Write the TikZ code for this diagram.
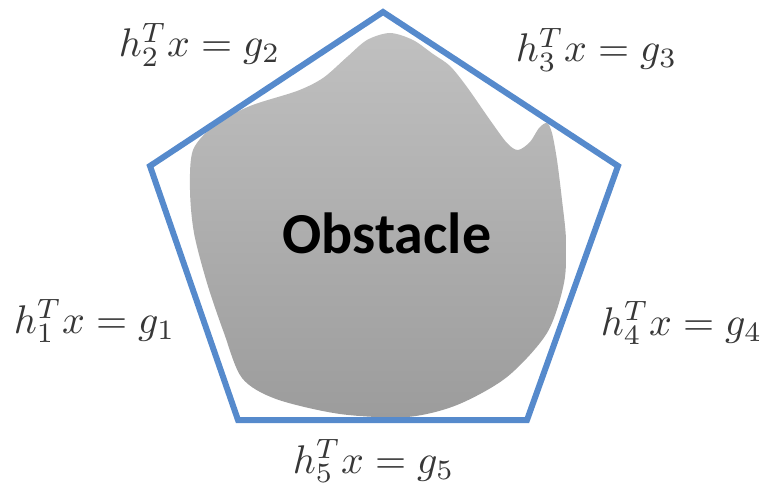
\documentclass[tikz,border=0pt]{standalone}
\usepackage{fontspec}
\newfontfamily\obsfont{Carlito}
\definecolor{penblue}{RGB}{86,138,204}
\definecolor{blobtop}{RGB}{192,192,192}
\definecolor{blobbot}{RGB}{156,156,156}
\definecolor{labgray}{RGB}{55,55,55}
\tikzset{
  hull/.style={draw=penblue, line width=6pt, line join=miter},
  eqlabel/.style={anchor=base west, inner sep=0pt, text=labgray, scale=4},
  obslabel/.style={anchor=base, inner sep=0pt, font=\obsfont\bfseries\fontsize{58}{70}\selectfont}
}
\begin{document}
\begin{tikzpicture}[x=1pt,y=-1pt]
\useasboundingbox (0,0) rectangle (763,487);
% obstacle blob
\shade[top color=blobtop, bottom color=blobbot]
  plot[smooth cycle, tension=0.5] coordinates {
    (390,33) (413,40) (433,54) (450,66) (467,87) (490,120) (507,143)
    (518,150) (530,142) (539,128) (547,123) (552,133) (557,160) (562,200)
    (566,240) (564,283) (547,333) (507,377) (457,405) (407,417) (340,414)
    (276,399) (242,378) (224,333) (207,283) (194,233) (190,190) (193,150)
    (215,125) (250,106) (297,91) (323,78) (347,57) (367,40)
  };
% pentagon
\coordinate (p1) at (383,12);
\coordinate (p2) at (618,166);
\coordinate (p3) at (527,420);
\coordinate (p4) at (238,420);
\coordinate (p5) at (150,166);
\draw[hull] (p1) -- (p2) -- (p3) -- (p4) -- (p5) -- cycle;
\node[obslabel] (obs) at (387,253) {Obstacle};
\node[eqlabel] (e1) at (13,333) {$h_1^T x = g_1$};
\node[eqlabel] (e2) at (118,57) {$h_2^T x = g_2$};
\node[eqlabel] (e3) at (515,62) {$h_3^T x = g_3$};
\node[eqlabel] (e4) at (600,335) {$h_4^T x = g_4$};
\node[eqlabel] (e5) at (292,473) {$h_5^T x = g_5$};
\end{tikzpicture}
\end{document}
